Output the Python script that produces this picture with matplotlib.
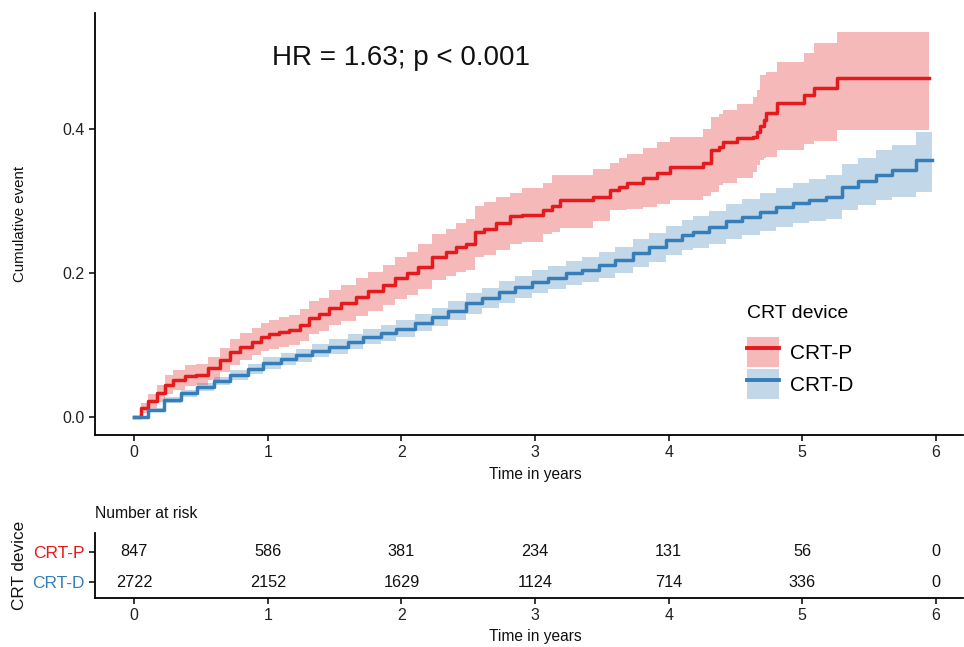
import matplotlib
matplotlib.use("Agg")
import matplotlib.pyplot as plt
from matplotlib.patches import Patch
from matplotlib.lines import Line2D

plt.rcParams['font.family'] = ['Liberation Sans', 'DejaVu Sans']

# ---- data ----
group_names = ["CRT-P", "CRT-D"]
group_colors = ["#E41A1C", "#377EB8"]

p_time = [0, 0.05, 0.10, 0.17, 0.23, 0.29, 0.38, 0.46, 0.55, 0.64, 0.72, 0.79, 0.88, 0.95,
          1.01, 1.08, 1.16, 1.24, 1.31, 1.38, 1.46, 1.55, 1.66, 1.75, 1.86, 1.95,
          2.04, 2.12, 2.23, 2.33, 2.41, 2.48, 2.55, 2.62, 2.71, 2.81, 2.90,
          3.06, 3.13, 3.19, 3.43, 3.56, 3.63, 3.69, 3.81, 3.91,
          4.01, 4.26, 4.32, 4.38, 4.41, 4.51, 4.63, 4.66, 4.68, 4.71, 4.73, 4.81,
          5.01, 5.09, 5.26, 5.95]
p_est = [0, 0.012, 0.022, 0.033, 0.045, 0.052, 0.057, 0.059, 0.068, 0.079, 0.090, 0.098, 0.105, 0.111,
         0.115, 0.118, 0.121, 0.128, 0.138, 0.143, 0.152, 0.158, 0.167, 0.175, 0.184, 0.193,
         0.200, 0.209, 0.222, 0.229, 0.236, 0.240, 0.258, 0.262, 0.270, 0.279, 0.281,
         0.288, 0.293, 0.302, 0.306, 0.316, 0.320, 0.325, 0.332, 0.339,
         0.348, 0.354, 0.371, 0.376, 0.383, 0.388, 0.390, 0.397, 0.405, 0.413, 0.423, 0.437,
         0.448, 0.457, 0.471, 0.471]
p_lo = [0, 0.005, 0.012, 0.021, 0.032, 0.038, 0.043, 0.044, 0.052, 0.062, 0.072, 0.080, 0.086, 0.092,
        0.095, 0.098, 0.100, 0.106, 0.115, 0.120, 0.128, 0.133, 0.141, 0.148, 0.156, 0.164,
        0.170, 0.178, 0.190, 0.196, 0.202, 0.205, 0.222, 0.225, 0.232, 0.240, 0.244,
        0.255, 0.258, 0.263, 0.272, 0.288, 0.288, 0.290, 0.292, 0.296,
        0.302, 0.308, 0.313, 0.323, 0.325, 0.332, 0.341, 0.350, 0.357, 0.360, 0.362, 0.371,
        0.380, 0.384, 0.399, 0.399]
p_hi = [0, 0.019, 0.032, 0.045, 0.058, 0.066, 0.072, 0.074, 0.084, 0.096, 0.108, 0.117, 0.124, 0.131,
        0.135, 0.139, 0.142, 0.150, 0.161, 0.166, 0.176, 0.183, 0.193, 0.202, 0.212, 0.222,
        0.230, 0.240, 0.254, 0.262, 0.270, 0.275, 0.294, 0.299, 0.306, 0.312, 0.318,
        0.325, 0.337, 0.337, 0.345, 0.353, 0.360, 0.366, 0.374, 0.383,
        0.390, 0.400, 0.418, 0.422, 0.427, 0.435, 0.445, 0.455, 0.476, 0.476, 0.480, 0.494,
        0.506, 0.520, 0.536, 0.536]

d_time = [0, 0.10, 0.22, 0.35, 0.47, 0.60, 0.72, 0.85, 0.96, 1.10, 1.21, 1.33, 1.46, 1.60, 1.71,
          1.85, 1.96, 2.10, 2.23, 2.35, 2.48, 2.60, 2.73, 2.85, 2.98, 3.10, 3.23, 3.35, 3.48,
          3.60, 3.73, 3.85, 3.98, 4.10, 4.18, 4.30, 4.43, 4.55, 4.68, 4.80, 4.93, 5.05, 5.18,
          5.30, 5.42, 5.55, 5.67, 5.85, 5.97]
d_est = [0, 0.010, 0.024, 0.033, 0.042, 0.050, 0.058, 0.067, 0.075, 0.081, 0.086, 0.092, 0.098, 0.105, 0.112,
         0.117, 0.123, 0.131, 0.139, 0.148, 0.158, 0.166, 0.174, 0.181, 0.188, 0.194, 0.200, 0.205, 0.211,
         0.218, 0.228, 0.236, 0.246, 0.253, 0.257, 0.264, 0.272, 0.278, 0.285, 0.292, 0.298, 0.302, 0.306,
         0.320, 0.328, 0.337, 0.343, 0.357, 0.357]
d_lo = [0, 0.007, 0.020, 0.028, 0.036, 0.044, 0.051, 0.060, 0.067, 0.073, 0.077, 0.083, 0.088, 0.095, 0.101,
        0.106, 0.111, 0.119, 0.126, 0.135, 0.144, 0.152, 0.159, 0.166, 0.172, 0.178, 0.183, 0.188, 0.193,
        0.200, 0.209, 0.216, 0.226, 0.232, 0.235, 0.241, 0.248, 0.253, 0.259, 0.265, 0.270, 0.273, 0.276,
        0.288, 0.295, 0.302, 0.306, 0.313, 0.313]
d_hi = [0, 0.013, 0.028, 0.038, 0.048, 0.056, 0.065, 0.074, 0.083, 0.089, 0.095, 0.101, 0.108, 0.115, 0.123,
        0.128, 0.135, 0.143, 0.152, 0.161, 0.172, 0.180, 0.189, 0.196, 0.204, 0.210, 0.217, 0.222, 0.229,
        0.236, 0.247, 0.256, 0.266, 0.274, 0.279, 0.287, 0.296, 0.303, 0.311, 0.319, 0.326, 0.331, 0.336,
        0.352, 0.361, 0.371, 0.378, 0.397, 0.397]

risk_times = [0, 1, 2, 3, 4, 5, 6]
risk_p = [847, 586, 381, 234, 131, 56, 0]
risk_d = [2722, 2152, 1629, 1124, 714, 336, 0]

x_ticks = [0, 1, 2, 3, 4, 5, 6]
y_ticks = [0.0, 0.2, 0.4]
y_ticklabels = ["0.0", "0.2", "0.4"]
annotation = "HR = 1.63; p < 0.001"

# ---- figure ----
W, H = 964, 647
fig = plt.figure(figsize=(W / 100, H / 100), dpi=100)

def box(l, t, r, b):
    return [l / W, 1 - b / H, (r - l) / W, (b - t) / H]

ax = fig.add_axes(box(95, 13, 963, 435))
tab = fig.add_axes(box(95, 533, 963, 598))

series = [(p_time, p_est, p_lo, p_hi), (d_time, d_est, d_lo, d_hi)]
handles = []
for (t, e, lo, hi), name, col in zip(series, group_names, group_colors):
    ax.fill_between(t, lo, hi, step="post", color=col, alpha=0.3, linewidth=0)
    ax.step(t, e, where="post", color=col, linewidth=2.5)
    handles.append((Patch(facecolor=col, alpha=0.3, edgecolor="none"),
                    Line2D([], [], color=col, linewidth=2.8)))

xl = (-0.294, 6.203)
ax.set_xlim(*xl)
ax.set_ylim(-0.025, 0.562)
ax.set_xticks(x_ticks)
ax.set_yticks(y_ticks)
ax.set_yticklabels(y_ticklabels)
for s in ["top", "right"]:
    ax.spines[s].set_visible(False)
for s in ["left", "bottom"]:
    ax.spines[s].set_linewidth(1.3)
ax.tick_params(axis="both", labelsize=11.5, length=4, width=1.1, color="black", labelcolor="#222222")
ax.set_xlabel("Time in years", fontsize=11.2, color="#111111", va="center")
ax.xaxis.set_label_coords((535 - 95) / 868, -(474 - 435) / 422)
ax.set_ylabel("Cumulative event", fontsize=10.8, color="#111111", va="center")
ax.yaxis.set_label_coords(-(95 - 20) / 868, 0.5)

ax.text(2.0, 0.5, annotation, fontsize=20, ha="center", va="center", color="#111111")

leg = ax.legend(handles, group_names, title="CRT device", frameon=False,
                loc="upper left", bbox_to_anchor=((747 - 95) / 868, (435 - 305) / 422),
                fontsize=15, title_fontsize=14, handlelength=1.55, handleheight=1.8,
                handletextpad=0.5, labelspacing=0.12, borderaxespad=0, borderpad=0)
leg._legend_box.align = "left"
leg._legend_box.sep = 11

# ---- risk table ----
tab.set_xlim(*xl)
tab.set_ylim(-0.533, 1.633)
for x, a, b in zip(risk_times, risk_p, risk_d):
    tab.text(x, 1, str(a), ha="center", va="center", fontsize=11.7, color="#111111")
    tab.text(x, 0, str(b), ha="center", va="center", fontsize=11.7, color="#111111")
tab.set_xticks(x_ticks)
tab.set_yticks([1, 0])
tab.set_yticklabels(group_names)
for lbl, col in zip(tab.get_yticklabels(), group_colors):
    lbl.set_color(col)
for s in ["top", "right"]:
    tab.spines[s].set_visible(False)
for s in ["left", "bottom"]:
    tab.spines[s].set_linewidth(1.3)
tab.tick_params(axis="both", labelsize=11.5, length=4, width=1.1, color="black")
tab.tick_params(axis="y", labelsize=12.5)
tab.tick_params(axis="x", labelcolor="#222222")
tab.set_xlabel("Time in years", fontsize=11.2, color="#111111", va="center")
tab.xaxis.set_label_coords((535 - 95) / 868, -(637 - 598) / 65)
tab.set_ylabel("CRT device", fontsize=12.3, color="#111111", va="center")
tab.yaxis.set_label_coords(-(95 - 20) / 868, 0.5)
tab.text(0, 1.0 + (533 - 513) / 65, "Number at risk", transform=tab.transAxes,
         ha="left", va="center", fontsize=11.3, color="#111111")

fig.savefig("out.png", dpi=100)
